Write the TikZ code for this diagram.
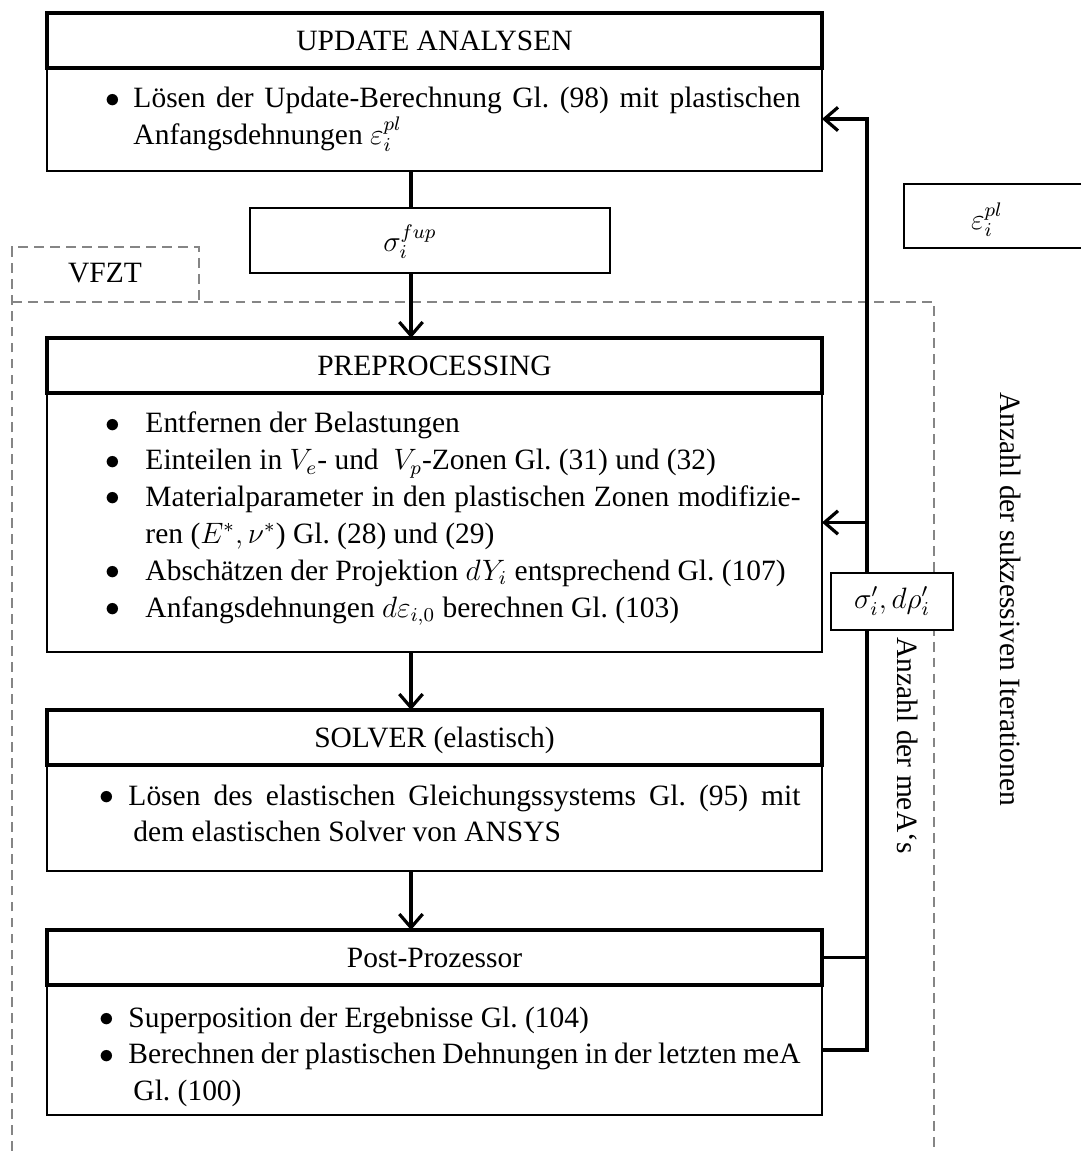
\documentclass[tikz,border=0pt]{standalone}
\usepackage{fontspec}
\setmainfont{Liberation Serif}
\usepackage{tikz}
\usetikzlibrary{arrows.meta}
\definecolor{VFGray}{HTML}{858585}
\newdimen\px \px=0.407pt
% bullet line: bullet shift, first-line indent, hanging indent, text
\newcommand{\bdot}{\raisebox{0.3pt}{$\bullet$}}
\newcommand{\bpoint}[4]{\hangindent=#3\px\hangafter=1\noindent\makebox[#2\px][l]{\hspace*{#1\px}\bdot}#4\par}
\tikzset{
  headbox/.style={draw,line width=1.5pt,minimum width=775\px,minimum height=55\px,inner sep=0pt,outer sep=0pt,text height=8.1pt,text depth=0pt},
  bodybox/.style={draw,line width=1pt,minimum width=775\px,inner sep=0pt,outer sep=0pt},
  bodytext/.style={anchor=base west,text width=700\px,align=justify,inner sep=0pt},
  labelbox/.style={draw,line width=1pt,fill=white,inner sep=0pt,outer sep=0pt},
  flow/.style={line width=1.3pt},
  flowarrow/.style={flow,-{Straight Barb[length=5.5pt,width=9.5pt]}},
  vfztframe/.style={VFGray,line width=0.8pt,dash pattern=on 4pt off 2.5pt},
  vtext/.style={anchor=base west,rotate=-90,inner sep=0pt},
}
\begin{document}
\begin{tikzpicture}[x=0.407pt,y=-0.407pt,font=\fontsize{12}{15}\selectfont\frenchspacing]
\path[use as bounding box] (0,0) rectangle (1081,1151);
% VFZT frame
\draw[vfztframe] (12,1151) -- (12,247) -- (199,247) -- (199,302);
\draw[vfztframe] (12,302) -- (934,302) -- (934,1151);
\node[anchor=base] (vfzt) at (105,283) {VFZT};
% boxes
\node[bodybox,minimum height=104\px] (upd-b) at (434.5,119) {};
\node[headbox] (upd-h) at (434.5,40.5) {UPDATE ANALYSEN};
\node[bodytext] (upd-t) at (100,108) {\bpoint{5}{33}{33}{Lösen der Update-Berechnung Gl. (98) mit plastischen\linebreak Anfangsdehnungen $\varepsilon_i^{pl}$}};
\node[bodybox,minimum height=259\px] (pre-b) at (434.5,522.5) {};
\node[headbox] (pre-h) at (434.5,365.5) {PREPROCESSING};
\node[bodytext] (pre-t) at (100,433) {%
\bpoint{5}{45}{45}{Entfernen der Belastungen}
\bpoint{5}{45}{45}{Einteilen in $V_e$- und \ $V_p$-Zonen Gl. (31) und (32)}
\bpoint{5}{45}{45}{Materialparameter in den plastischen Zonen modifizie-\linebreak ren ($E^*,\nu^*$) Gl. (28) und (29)}
\bpoint{5}{45}{45}{Abschätzen der Projektion $dY_i$ entsprechend Gl. (107)}
\bpoint{5}{45}{45}{Anfangsdehnungen $d\varepsilon_{i,0}$ berechnen Gl. (103)}};
\node[bodybox,minimum height=106\px] (sol-b) at (434.5,818) {};
\node[headbox] (sol-h) at (434.5,737.5) {SOLVER (elastisch)};
\node[bodytext] (sol-t) at (100,805) {\bpoint{-1}{28}{33}{Lösen des elastischen Gleichungssystems Gl. (95) mit\linebreak dem elastischen Solver von ANSYS}};
\node[bodybox,minimum height=130\px] (post-b) at (434.5,1050) {};
\node[headbox] (post-h) at (434.5,957.5) {Post-Prozessor};
\node[bodytext] (post-t) at (100,1027) {%
\bpoint{-1}{28}{33}{Superposition der Ergebnisse Gl. (104)}
\bpoint{-1}{28}{33}{Berechnen der plastischen Dehnungen in der letzten meA\linebreak Gl. (100)}};
% stress box
\node[labelbox,minimum width=360\px,minimum height=65\px] (sig-box) at (430,240.5) {};
\node[anchor=base] (sig) at (410,252) {$\sigma_i^{fup}$};
% main flow
\coordinate (axis) at (411,0);
\draw[flow] (upd-b.south -| axis) -- (sig-box.north -| axis);
\draw[flowarrow] (sig-box.south -| axis) -- (pre-h.north -| axis);
\draw[flowarrow] (pre-b.south -| axis) -- (sol-h.north -| axis);
\draw[flowarrow] (sol-b.south -| axis) -- (post-h.north -| axis);
% feedback
\coordinate (rail) at (867,0);
\draw[flow] (post-h.east) -- (post-h.east -| rail);
\draw[flowarrow] (post-b.east) -- (post-b.east -| rail) -- (upd-b.east -| rail) -- (upd-b.east);
\draw[flowarrow] (pre-b.east -| rail) -- (pre-b.east);
\node[labelbox,minimum width=122\px,minimum height=57\px] (sig-rho) at (892,601.5) {$\sigma_i',d\rho_i'$};
% plastic strain box
\draw[line width=1pt] (1081,184) -- (904,184) -- (904,248) -- (1081,248);
\node[anchor=base] (eps) at (987,230) {$\varepsilon_i^{pl}$};
% iteration counts
\node[vtext] (mea) at (897,637) {Anzahl der meA‘s};
\node[vtext] (iter) at (1000,392) {Anzahl der sukzessiven Iterationen};
\end{tikzpicture}
\end{document}
